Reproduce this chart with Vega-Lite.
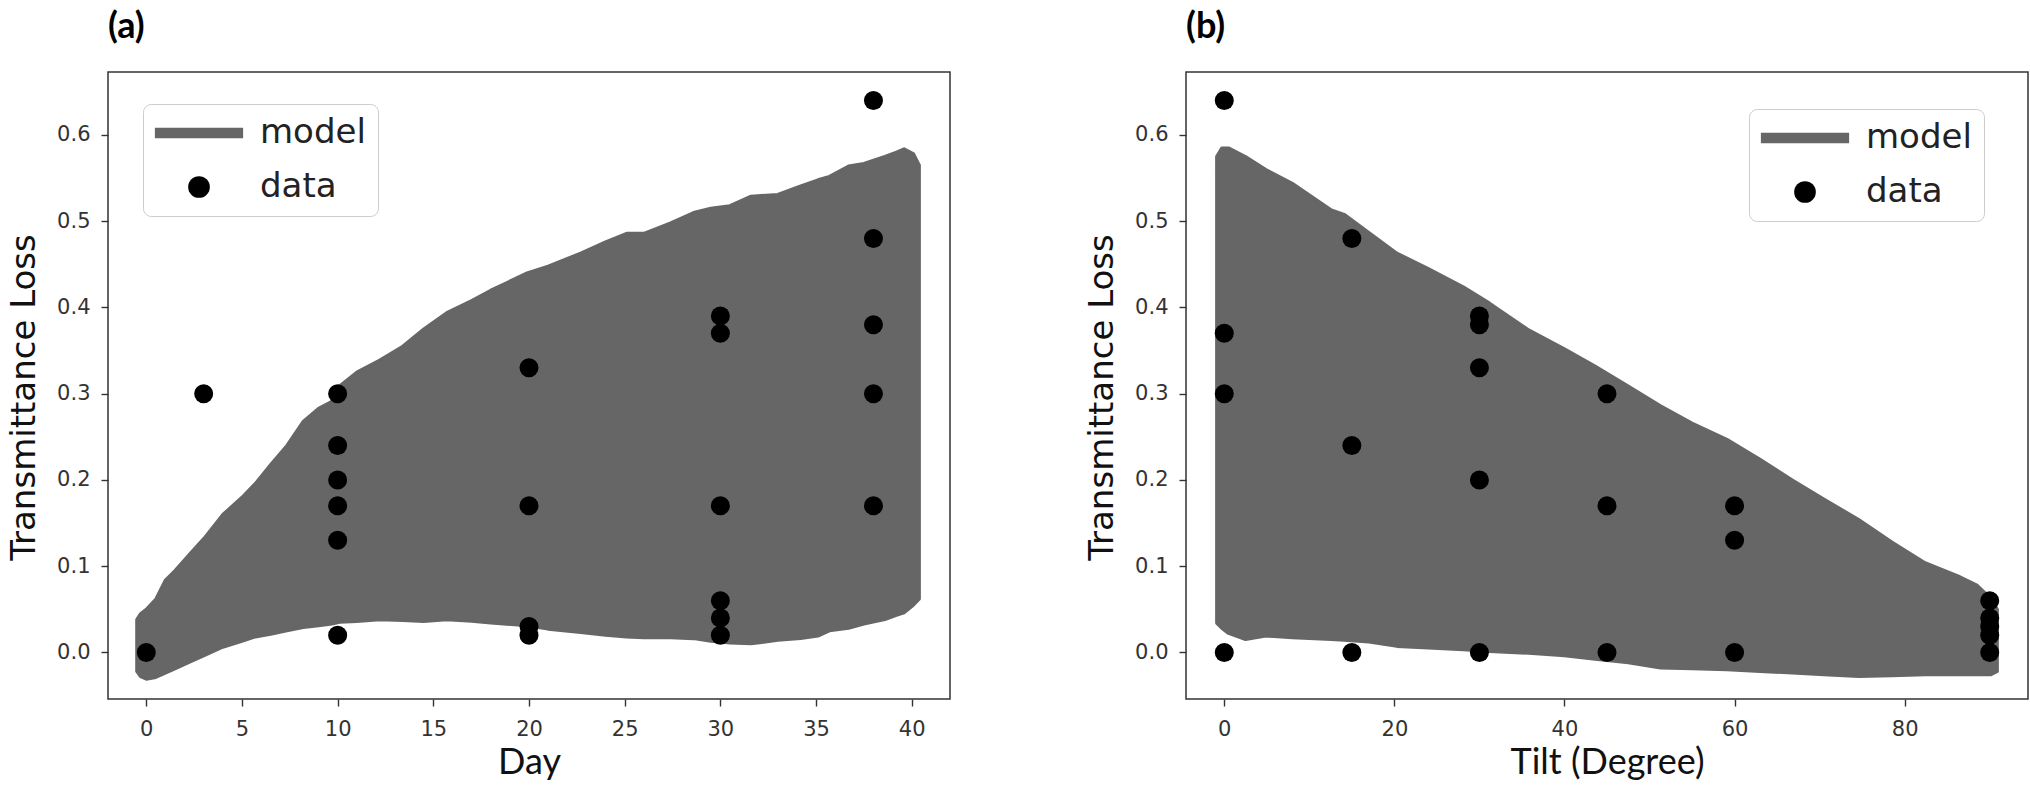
{
  "$schema": "https://vega.github.io/schema/vega-lite/v6.json",
  "background": "white",
  "padding": {"left": 6, "top": 8, "right": 4, "bottom": 4},
  "spacing": 133,
  "datasets": {
    "dayModel": [
      {"day": -0.5, "upper": 0.038, "lower": -0.022, "series": "model"},
      {"day": -0.3, "upper": 0.045, "lower": -0.028, "series": "model"},
      {"day": 0.0, "upper": 0.05, "lower": -0.031, "series": "model"},
      {"day": 0.5, "upper": 0.062, "lower": -0.029, "series": "model"},
      {"day": 1.0, "upper": 0.084, "lower": -0.024, "series": "model"},
      {"day": 1.5, "upper": 0.095, "lower": -0.019, "series": "model"},
      {"day": 2.3, "upper": 0.115, "lower": -0.011, "series": "model"},
      {"day": 3.0, "upper": 0.132, "lower": -0.004, "series": "model"},
      {"day": 4.0, "upper": 0.16, "lower": 0.006, "series": "model"},
      {"day": 5.0, "upper": 0.18, "lower": 0.013, "series": "model"},
      {"day": 5.7, "upper": 0.196, "lower": 0.018, "series": "model"},
      {"day": 6.5, "upper": 0.218, "lower": 0.021, "series": "model"},
      {"day": 7.35, "upper": 0.24, "lower": 0.025, "series": "model"},
      {"day": 8.2, "upper": 0.268, "lower": 0.029, "series": "model"},
      {"day": 9.0, "upper": 0.283, "lower": 0.031, "series": "model"},
      {"day": 9.7, "upper": 0.291, "lower": 0.033, "series": "model"},
      {"day": 10.1, "upper": 0.309, "lower": 0.035, "series": "model"},
      {"day": 11.0, "upper": 0.325, "lower": 0.036, "series": "model"},
      {"day": 12.2, "upper": 0.339, "lower": 0.038, "series": "model"},
      {"day": 13.4, "upper": 0.355, "lower": 0.037, "series": "model"},
      {"day": 14.5, "upper": 0.375, "lower": 0.036, "series": "model"},
      {"day": 15.7, "upper": 0.394, "lower": 0.038, "series": "model"},
      {"day": 17.0, "upper": 0.408, "lower": 0.036, "series": "model"},
      {"day": 18.0, "upper": 0.42, "lower": 0.034, "series": "model"},
      {"day": 19.9, "upper": 0.44, "lower": 0.031, "series": "model"},
      {"day": 21.0, "upper": 0.448, "lower": 0.027, "series": "model"},
      {"day": 22.7, "upper": 0.463, "lower": 0.023, "series": "model"},
      {"day": 24.0, "upper": 0.476, "lower": 0.02, "series": "model"},
      {"day": 25.1, "upper": 0.486, "lower": 0.018, "series": "model"},
      {"day": 26.0, "upper": 0.486, "lower": 0.017, "series": "model"},
      {"day": 27.4, "upper": 0.498, "lower": 0.017, "series": "model"},
      {"day": 28.6, "upper": 0.51, "lower": 0.016, "series": "model"},
      {"day": 29.5, "upper": 0.515, "lower": 0.013, "series": "model"},
      {"day": 30.5, "upper": 0.518, "lower": 0.011, "series": "model"},
      {"day": 31.6, "upper": 0.529, "lower": 0.01, "series": "model"},
      {"day": 33.0, "upper": 0.531, "lower": 0.014, "series": "model"},
      {"day": 34.2, "upper": 0.541, "lower": 0.016, "series": "model"},
      {"day": 35.1, "upper": 0.548, "lower": 0.019, "series": "model"},
      {"day": 35.7, "upper": 0.552, "lower": 0.025, "series": "model"},
      {"day": 36.7, "upper": 0.564, "lower": 0.028, "series": "model"},
      {"day": 37.5, "upper": 0.567, "lower": 0.033, "series": "model"},
      {"day": 38.6, "upper": 0.575, "lower": 0.038, "series": "model"},
      {"day": 39.2, "upper": 0.58, "lower": 0.043, "series": "model"},
      {"day": 39.6, "upper": 0.584, "lower": 0.046, "series": "model"},
      {"day": 40.1, "upper": 0.578, "lower": 0.055, "series": "model"},
      {"day": 40.4, "upper": 0.565, "lower": 0.062, "series": "model"}
    ],
    "dayData": [
      {"day": 0, "loss": 0.0, "series": "data"},
      {"day": 3, "loss": 0.3, "series": "data"},
      {"day": 10, "loss": 0.3, "series": "data"},
      {"day": 10, "loss": 0.24, "series": "data"},
      {"day": 10, "loss": 0.2, "series": "data"},
      {"day": 10, "loss": 0.17, "series": "data"},
      {"day": 10, "loss": 0.13, "series": "data"},
      {"day": 10, "loss": 0.02, "series": "data"},
      {"day": 20, "loss": 0.33, "series": "data"},
      {"day": 20, "loss": 0.17, "series": "data"},
      {"day": 20, "loss": 0.03, "series": "data"},
      {"day": 20, "loss": 0.02, "series": "data"},
      {"day": 30, "loss": 0.39, "series": "data"},
      {"day": 30, "loss": 0.37, "series": "data"},
      {"day": 30, "loss": 0.17, "series": "data"},
      {"day": 30, "loss": 0.06, "series": "data"},
      {"day": 30, "loss": 0.04, "series": "data"},
      {"day": 30, "loss": 0.02, "series": "data"},
      {"day": 38, "loss": 0.64, "series": "data"},
      {"day": 38, "loss": 0.48, "series": "data"},
      {"day": 38, "loss": 0.38, "series": "data"},
      {"day": 38, "loss": 0.3, "series": "data"},
      {"day": 38, "loss": 0.17, "series": "data"}
    ],
    "tiltModel": [
      {"tilt": -0.9, "upper": 0.575, "lower": 0.034, "series": "model"},
      {"tilt": -0.3, "upper": 0.585, "lower": 0.028, "series": "model"},
      {"tilt": 0.5, "upper": 0.585, "lower": 0.022, "series": "model"},
      {"tilt": 2.5, "upper": 0.575, "lower": 0.015, "series": "model"},
      {"tilt": 4.9, "upper": 0.56, "lower": 0.019, "series": "model"},
      {"tilt": 8.0, "upper": 0.544, "lower": 0.017, "series": "model"},
      {"tilt": 12.6, "upper": 0.513, "lower": 0.015, "series": "model"},
      {"tilt": 14.1, "upper": 0.508, "lower": 0.014, "series": "model"},
      {"tilt": 17.0, "upper": 0.487, "lower": 0.012, "series": "model"},
      {"tilt": 20.3, "upper": 0.463, "lower": 0.007, "series": "model"},
      {"tilt": 24.0, "upper": 0.445, "lower": 0.005, "series": "model"},
      {"tilt": 28.1, "upper": 0.424, "lower": 0.003, "series": "model"},
      {"tilt": 31.2, "upper": 0.405, "lower": 0.001, "series": "model"},
      {"tilt": 35.8, "upper": 0.374, "lower": -0.001, "series": "model"},
      {"tilt": 40.0, "upper": 0.352, "lower": -0.004, "series": "model"},
      {"tilt": 43.6, "upper": 0.332, "lower": -0.008, "series": "model"},
      {"tilt": 47.5, "upper": 0.309, "lower": -0.012, "series": "model"},
      {"tilt": 51.3, "upper": 0.286, "lower": -0.018, "series": "model"},
      {"tilt": 55.0, "upper": 0.266, "lower": -0.019, "series": "model"},
      {"tilt": 59.1, "upper": 0.247, "lower": -0.02, "series": "model"},
      {"tilt": 63.0, "upper": 0.224, "lower": -0.022, "series": "model"},
      {"tilt": 66.8, "upper": 0.2, "lower": -0.024, "series": "model"},
      {"tilt": 70.5, "upper": 0.178, "lower": -0.026, "series": "model"},
      {"tilt": 74.6, "upper": 0.154, "lower": -0.028, "series": "model"},
      {"tilt": 78.5, "upper": 0.128, "lower": -0.027, "series": "model"},
      {"tilt": 82.4, "upper": 0.104, "lower": -0.026, "series": "model"},
      {"tilt": 86.2, "upper": 0.089, "lower": -0.026, "series": "model"},
      {"tilt": 88.5, "upper": 0.078, "lower": -0.026, "series": "model"},
      {"tilt": 90.1, "upper": 0.063, "lower": -0.026, "series": "model"},
      {"tilt": 90.9, "upper": 0.05, "lower": -0.022, "series": "model"}
    ],
    "tiltData": [
      {"tilt": 0, "loss": 0.64, "series": "data"},
      {"tilt": 0, "loss": 0.37, "series": "data"},
      {"tilt": 0, "loss": 0.3, "series": "data"},
      {"tilt": 0, "loss": 0.0, "series": "data"},
      {"tilt": 15, "loss": 0.48, "series": "data"},
      {"tilt": 15, "loss": 0.24, "series": "data"},
      {"tilt": 15, "loss": 0.0, "series": "data"},
      {"tilt": 30, "loss": 0.39, "series": "data"},
      {"tilt": 30, "loss": 0.38, "series": "data"},
      {"tilt": 30, "loss": 0.33, "series": "data"},
      {"tilt": 30, "loss": 0.2, "series": "data"},
      {"tilt": 30, "loss": 0.0, "series": "data"},
      {"tilt": 45, "loss": 0.3, "series": "data"},
      {"tilt": 45, "loss": 0.17, "series": "data"},
      {"tilt": 45, "loss": 0.0, "series": "data"},
      {"tilt": 60, "loss": 0.17, "series": "data"},
      {"tilt": 60, "loss": 0.13, "series": "data"},
      {"tilt": 60, "loss": 0.0, "series": "data"},
      {"tilt": 90, "loss": 0.06, "series": "data"},
      {"tilt": 90, "loss": 0.04, "series": "data"},
      {"tilt": 90, "loss": 0.03, "series": "data"},
      {"tilt": 90, "loss": 0.02, "series": "data"},
      {"tilt": 90, "loss": 0.0, "series": "data"}
    ]
  },
  "hconcat": [
    {
      "width": 842,
      "height": 627,
      "title": {"text": "(a)"},
      "layer": [
        {
          "data": {"name": "dayModel"},
          "mark": {"type": "area", "interpolate": "linear", "stroke": "#666666", "strokeWidth": 3, "strokeJoin": "round"},
          "encoding": {
            "x": {
              "field": "day", "type": "quantitative", "title": "Day",
              "scale": {"domain": [-2, 42], "nice": false, "zero": false},
              "axis": {"values": [0, 5, 10, 15, 20, 25, 30, 35, 40]}
            },
            "y": {
              "field": "upper", "type": "quantitative", "title": "Transmittance Loss",
              "scale": {"domain": [-0.054, 0.673], "nice": false, "zero": false},
              "axis": {"values": [0, 0.1, 0.2, 0.3, 0.4, 0.5, 0.6], "format": ".1f", "titleY": 325}
            },
            "y2": {"field": "lower"},
            "color": {
              "field": "series", "type": "nominal",
              "scale": {"domain": ["model", "data"], "range": ["#666666", "#000000"]},
              "legend": {"title": null, "orient": "none", "legendX": 35, "legendY": 32}
            }
          }
        },
        {
          "data": {"name": "dayData"},
          "mark": {"type": "point", "filled": true, "opacity": 1, "size": 361},
          "encoding": {
            "x": {"field": "day", "type": "quantitative", "title": "Day"},
            "y": {"field": "loss", "type": "quantitative", "title": "Transmittance Loss"},
            "color": {"field": "series", "type": "nominal", "legend": {"title": null, "orient": "none", "legendX": 35, "legendY": 32}},
            "shape": {
              "field": "series", "type": "nominal",
              "scale": {"domain": ["model", "data"], "range": ["M-4.07,-0.49H4.07V0.49H-4.07Z", "circle"]},
              "legend": {"title": null, "orient": "none", "legendX": 35, "legendY": 32}
            }
          }
        }
      ]
    },
    {
      "width": 842,
      "height": 627,
      "title": {"text": "(b)"},
      "layer": [
        {
          "data": {"name": "tiltModel"},
          "mark": {"type": "area", "interpolate": "linear", "stroke": "#666666", "strokeWidth": 3, "strokeJoin": "round"},
          "encoding": {
            "x": {
              "field": "tilt", "type": "quantitative", "title": "Tilt (Degree)",
              "scale": {"domain": [-4.5, 94.5], "nice": false, "zero": false},
              "axis": {"values": [0, 20, 40, 60, 80]}
            },
            "y": {
              "field": "upper", "type": "quantitative", "title": "Transmittance Loss",
              "scale": {"domain": [-0.054, 0.673], "nice": false, "zero": false},
              "axis": {"values": [0, 0.1, 0.2, 0.3, 0.4, 0.5, 0.6], "format": ".1f", "titleY": 325}
            },
            "y2": {"field": "lower"},
            "color": {
              "field": "series", "type": "nominal",
              "scale": {"domain": ["model", "data"], "range": ["#666666", "#000000"]},
              "legend": {"title": null, "orient": "none", "legendX": 563, "legendY": 37}
            }
          }
        },
        {
          "data": {"name": "tiltData"},
          "mark": {"type": "point", "filled": true, "opacity": 1, "size": 361},
          "encoding": {
            "x": {"field": "tilt", "type": "quantitative", "title": "Tilt (Degree)"},
            "y": {"field": "loss", "type": "quantitative", "title": "Transmittance Loss"},
            "color": {"field": "series", "type": "nominal", "legend": {"title": null, "orient": "none", "legendX": 563, "legendY": 37}},
            "shape": {
              "field": "series", "type": "nominal",
              "scale": {"domain": ["model", "data"], "range": ["M-4.07,-0.49H4.07V0.49H-4.07Z", "circle"]},
              "legend": {"title": null, "orient": "none", "legendX": 563, "legendY": 37}
            }
          }
        }
      ]
    }
  ],
  "resolve": {
    "scale": {"x": "independent", "y": "independent", "color": "independent", "shape": "independent"},
    "legend": {"color": "independent", "shape": "independent"}
  },
  "config": {
    "view": {"stroke": "#333333", "strokeWidth": 1.5},
    "title": {"font": "Lato", "fontSize": 36, "fontWeight": "bold", "anchor": "start", "frame": "group", "color": "#000000", "offset": 26},
    "axis": {
      "domain": false, "grid": false,
      "tickColor": "#333333", "tickSize": 7, "tickWidth": 1.4,
      "labelFont": "DejaVu Sans", "labelFontSize": 21, "labelColor": "#333333",
      "labelOverlap": false, "labelFlush": false, "labelBound": false,
      "titleColor": "#111111", "titleFontWeight": "normal"
    },
    "axisX": {"labelPadding": 12, "titleFont": "Lato", "titleFontSize": 36, "titlePadding": 6},
    "axisY": {"labelPadding": 11, "titleFont": "DejaVu Sans", "titleFontSize": 34, "titlePadding": 15},
    "legend": {
      "labelFont": "DejaVu Sans", "labelFontSize": 34, "labelColor": "#222222", "labelLimit": 0,
      "symbolSize": 470, "symbolOffset": 27, "labelOffset": 44, "symbolStrokeWidth": 0, "symbolOpacity": 1,
      "rowPadding": 20, "padding": 12,
      "fillColor": "#ffffff", "strokeColor": "#cccccc", "cornerRadius": 8
    }
  }
}
